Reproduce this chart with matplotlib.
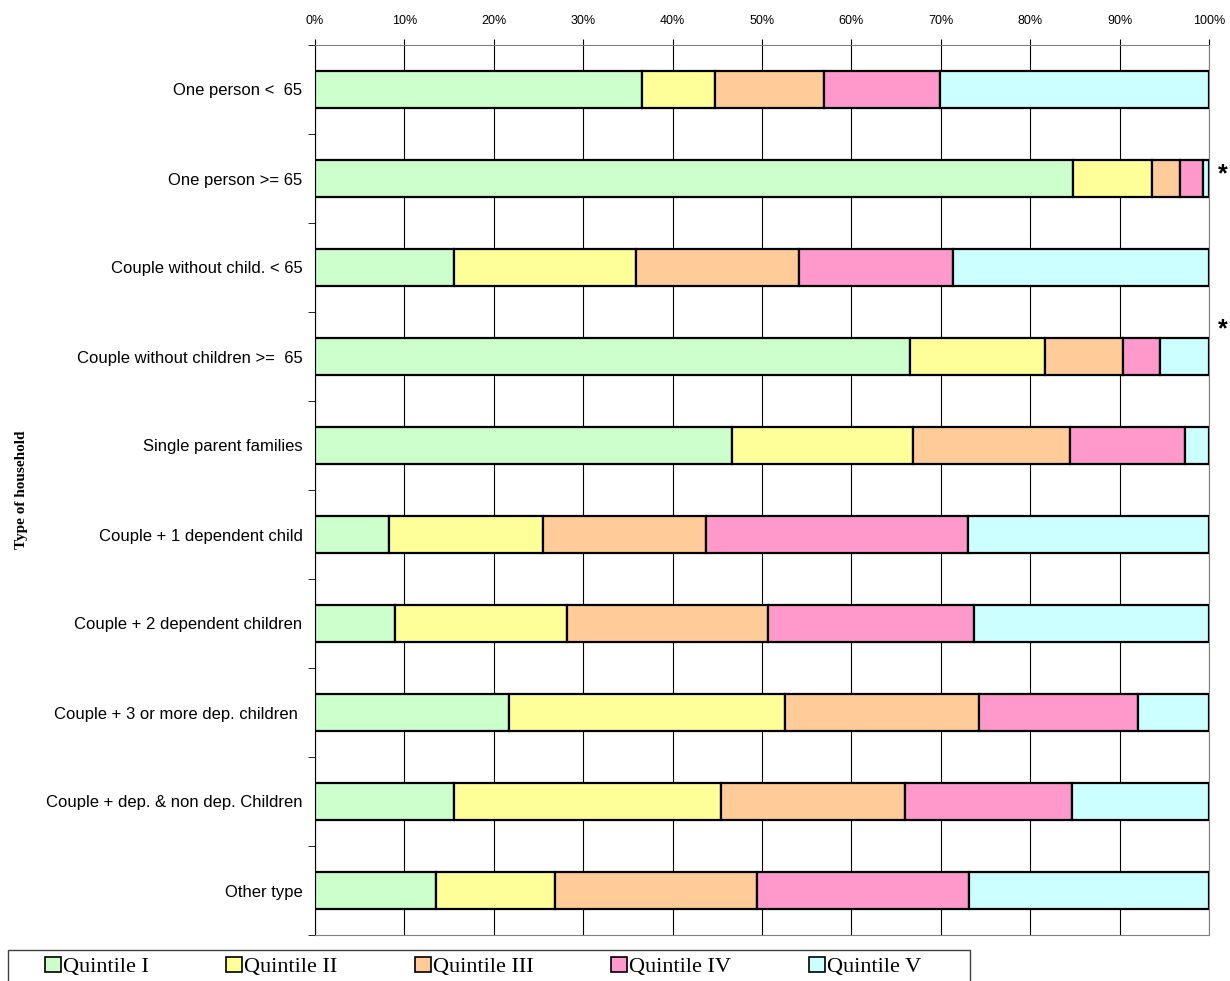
import numpy as np
import matplotlib.pyplot as plt
from matplotlib.patches import Patch, Rectangle

# household types, top to bottom
categories = ['One person <  65', 'One person >= 65', 'Couple without child. < 65',
              'Couple without children >=  65', 'Single parent families',
              'Couple + 1 dependent child', 'Couple + 2 dependent children',
              'Couple + 3 or more dep. children ', 'Couple + dep. & non dep. Children',
              'Other type']
series_names = ['Quintile I', 'Quintile II', 'Quintile III', 'Quintile IV', 'Quintile V']

# share (%) of each quintile per household type
q1 = [36.6, 84.8, 15.6, 66.6, 46.7, 8.3, 8.9, 21.7, 15.5, 13.5]
q2 = [8.1, 8.8, 20.3, 15.1, 20.2, 17.2, 19.3, 30.9, 29.9, 13.4]
q3 = [12.2, 3.2, 18.2, 8.7, 17.6, 18.2, 22.5, 21.7, 20.6, 22.5]
q4 = [13.0, 2.5, 17.3, 4.1, 12.8, 29.3, 23.0, 17.8, 18.7, 23.7]
q5 = [30.1, 0.7, 28.6, 5.5, 2.7, 27.0, 26.3, 7.9, 15.3, 26.9]
starred = [1, 3]  # rows flagged with an asterisk

colors = ['#CCFFCC', '#FFFF99', '#FFCC99', '#FF99CC', '#CCFFFF']
tick_labels = ['%d%%' % v for v in range(0, 101, 10)]

fig = plt.figure(figsize=(12.3, 9.81), dpi=100)
ax = fig.add_axes([315 / 1230, 1 - 935 / 981, (1209 - 315) / 1230, (935 - 45) / 981])

y = np.arange(len(categories))
left = np.zeros(len(categories))
for vals, c in zip([q1, q2, q3, q4, q5], colors):
    ax.barh(y, vals, left=left, height=0.41, color=c, edgecolor='black', linewidth=1.6, zorder=3)
    left += np.array(vals)

ax.set_xlim(0, 100)
ax.set_ylim(len(categories) - 0.5, -0.5)
ax.set_xticks(range(0, 101, 10))
ax.set_xticklabels(tick_labels, fontsize=9, family='Liberation Sans')
ax.xaxis.tick_top()
ax.tick_params(axis='x', length=4, pad=9)
ax.grid(axis='x', color='black', linewidth=0.8, zorder=0)

ax.set_yticks(y)
ax.set_yticklabels(categories, fontsize=12, family='Liberation Sans')
ax.set_yticks(np.arange(-0.5, len(categories) + 0.5, 1), minor=True)
ax.tick_params(axis='y', which='major', length=0, pad=9)
ax.tick_params(axis='y', which='minor', length=5, direction='out')

for s in ['top', 'bottom', 'right']:
    ax.spines[s].set_color('#808080')
ax.spines['left'].set_color('black')

# asterisks beside the flagged rows
for r, dy in zip(starred, [-0.05, -0.31]):
    ax.text(101.0, r + dy, '*', fontsize=18, fontweight='bold', ha='left', va='center',
            family='Liberation Sans', clip_on=False)

fig.text(22 / 1230, 1 - 490 / 981, 'Type of household', rotation=90, ha='center', va='center',
         fontsize=11, fontweight='bold', family='Liberation Serif')

# legend box (bottom edge runs off the picture)
fig.patches.append(Rectangle((8 / 1230, -0.02), (970 - 8) / 1230, 0.02 + 31 / 981,
                             transform=fig.transFigure, facecolor='white',
                             edgecolor='#404040', linewidth=1.0))
handles = [Patch(facecolor=c, edgecolor='black', linewidth=1.2) for c in colors]
leg = fig.legend(handles, series_names, loc='center left',
                 bbox_to_anchor=(45 / 1230, 1 - 967 / 981),
                 borderaxespad=0, ncol=5, frameon=False,
                 prop={'family': 'Liberation Serif', 'size': 16},
                 handlelength=0.7, handleheight=0.7, handletextpad=0.1,
                 columnspacing=3.5, borderpad=0)

fig.savefig('out.png', dpi=100)
